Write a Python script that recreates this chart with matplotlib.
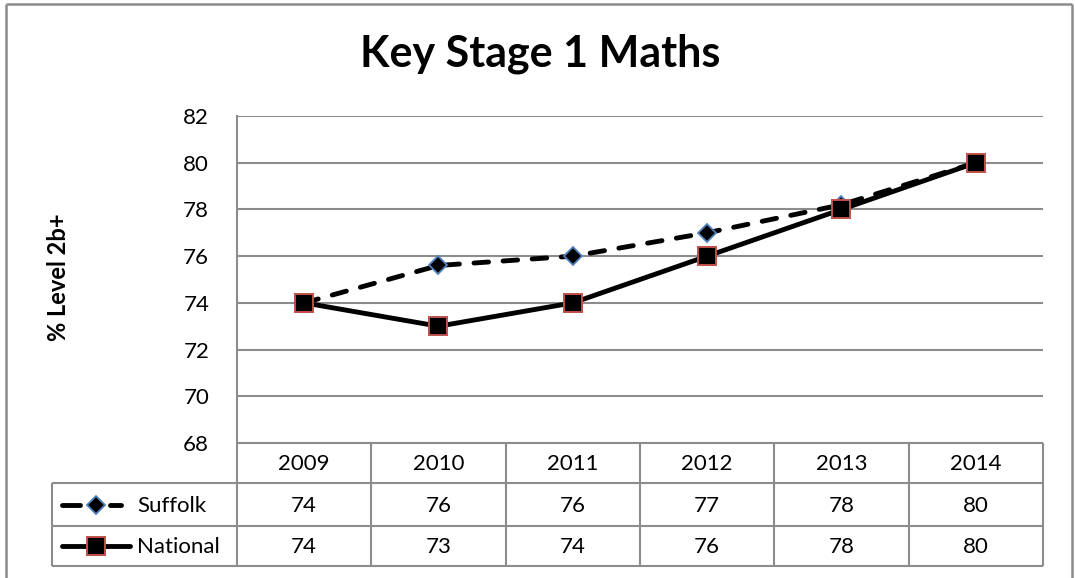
import matplotlib
matplotlib.use("Agg")
import matplotlib.pyplot as plt
from matplotlib.lines import Line2D

years = ["2009", "2010", "2011", "2012", "2013", "2014"]
suffolk = [74, 75.6, 76, 77, 78.2, 80]
national = [74, 73, 74, 76, 78, 80]
suffolk_labels = ["74", "76", "76", "77", "78", "80"]
national_labels = ["74", "73", "74", "76", "78", "80"]
series_names = ["Suffolk", "National"]
title = "Key Stage 1 Maths"
ylabel = "% Level 2b+"
yticks = [68, 70, 72, 74, 76, 78, 80, 82]

plt.rcParams['font.family'] = ['Lato', 'DejaVu Sans']

W, H = 1075, 578
fig = plt.figure(figsize=(W / 100, H / 100), dpi=100)

GRID = "#8c8c8c"
BLUE = "#4F81BD"
RED = "#C0504D"
FS = 16
LW = 3.5

# plot area in pixel coordinates
L, R, T, B = 237, 1043, 116, 443
ax = fig.add_axes([L / W, 1 - B / H, (R - L) / W, (B - T) / H])
x = list(range(len(years)))
ax.plot(x, suffolk, color="black", lw=LW, linestyle=(0, (3, 3)), dash_capstyle="round",
        marker="D", markersize=9.5, markerfacecolor="black",
        markeredgecolor=BLUE, markeredgewidth=1.3, zorder=3)
ax.plot(x, national, color="black", lw=LW, linestyle="-",
        marker="s", markersize=12.5, markerfacecolor="black",
        markeredgecolor=RED, markeredgewidth=1.4, zorder=4)
ax.set_xlim(-0.5, len(years) - 0.5)
ax.set_ylim(68, 82)
ax.set_yticks(yticks)
ax.set_yticklabels([str(v) for v in yticks], fontsize=FS)
ax.set_xticks([])
ax.yaxis.grid(True, color=GRID, lw=1.5)
ax.set_axisbelow(True)
for s in ["top", "right", "bottom"]:
    ax.spines[s].set_visible(False)
ax.spines["left"].set_color(GRID)
ax.spines["left"].set_linewidth(1.5)
ax.tick_params(axis="y", length=0, pad=20)
ax.set_facecolor("none")

# overlay in pixel coordinates for table, title, label, border
ov = fig.add_axes([0, 0, 1, 1], zorder=-1)
ov.set_xlim(0, W)
ov.set_ylim(H, 0)
ov.axis("off")

def seg(x0, y0, x1, y1, c=GRID, lw=1.5):
    ov.add_line(Line2D([x0, x1], [y0, y1], color=c, lw=lw, solid_capstyle="butt"))

# outer chart border
seg(6, 4, 1072, 4, c="#8a8a8a", lw=1.8)
seg(6, 4, 6, H, c="#8a8a8a", lw=1.8)
seg(1072, 4, 1072, H, c="#8a8a8a", lw=1.8)

# table
rows = [443, 483, 526, 566]
hx = 52
colw = (R - L) / len(years)
seg(L, rows[0], R, rows[0])
for yy in rows[1:]:
    seg(hx, yy, R, yy)
for i in range(len(years) + 1):
    xx = L + i * colw
    seg(xx, rows[0], xx, rows[-1])
seg(hx, rows[1], hx, rows[-1])

for i, yr in enumerate(years):
    cx = L + (i + 0.5) * colw
    ov.text(cx, (rows[0] + rows[1]) / 2 + 1, yr, ha="center", va="center", fontsize=FS)
    ov.text(cx, (rows[1] + rows[2]) / 2 + 1, suffolk_labels[i], ha="center", va="center", fontsize=FS)
    ov.text(cx, (rows[2] + rows[3]) / 2 + 1, national_labels[i], ha="center", va="center", fontsize=FS)

# legend keys
ys = (rows[1] + rows[2]) / 2
yn = (rows[2] + rows[3]) / 2
ov.add_line(Line2D([62, 80], [ys, ys], color="black", lw=LW, solid_capstyle="round"))
ov.add_line(Line2D([110, 121], [ys, ys], color="black", lw=LW, solid_capstyle="round"))
ov.add_line(Line2D([96], [ys], marker="D", markersize=9.5, markerfacecolor="black",
                   markeredgecolor=BLUE, markeredgewidth=1.3, lw=0))
ov.add_line(Line2D([62, 130], [yn, yn], color="black", lw=LW, solid_capstyle="round"))
ov.add_line(Line2D([96], [yn], marker="s", markersize=12.5, markerfacecolor="black",
                   markeredgecolor=RED, markeredgewidth=1.4, lw=0))
ov.text(137, ys + 1, series_names[0], ha="left", va="center", fontsize=FS)
ov.text(137, yn + 1, series_names[1], ha="left", va="center", fontsize=FS)

# title and y label
ov.text(540, 54, title, ha="center", va="center", fontsize=31, fontweight="bold")
ov.text(59, 277, ylabel, ha="center", va="center", rotation=90, fontsize=17, fontweight="bold")

fig.savefig("out.png", dpi=100)
